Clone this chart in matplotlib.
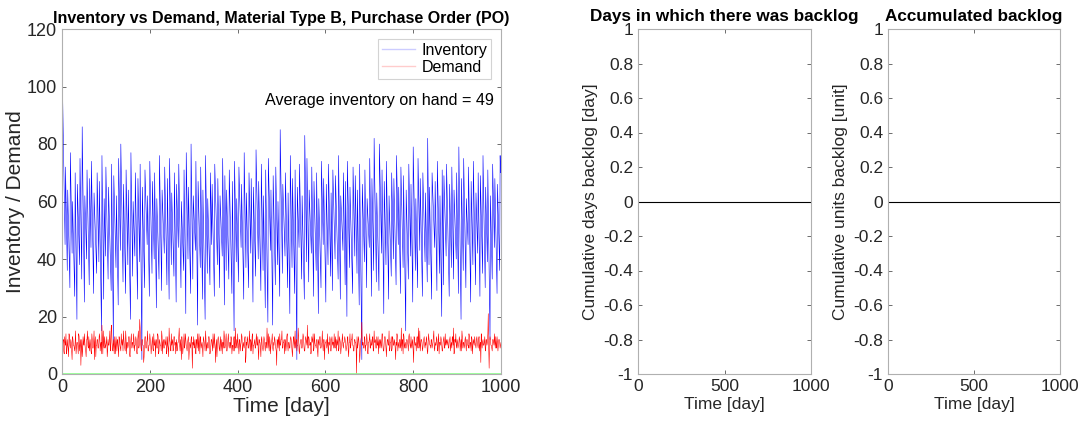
import numpy as np
import matplotlib
matplotlib.use("Agg")
import matplotlib.pyplot as plt
from matplotlib.lines import Line2D

plt.rcParams['font.family'] = ['Liberation Sans', 'DejaVu Sans']

# ---------------- data ----------------
# inventory: replenishment cycles (length in days, level right after order arrival, level before next order)
cycle_len = [8,
    5, 6, 5, 6, 5, 6, 5, 6, 5, 6,
    4, 6, 7, 5, 6, 5, 4, 6, 7, 5,
    6, 5, 5, 6, 6, 5, 6, 5, 5, 6,
    5, 5, 6, 6, 5, 6, 5, 5, 6, 6,
    6, 6, 5, 5, 6, 5, 5, 6, 6, 5,
    5, 6, 5, 6, 5, 6, 5, 6, 5, 6,
    4, 6, 7, 5, 6, 5, 4, 6, 7, 5,
    5, 5, 6, 6, 5, 6, 5, 5, 6, 6,
    6, 5, 5, 6, 6, 5, 6, 5, 5, 6,
    6, 6, 5, 5, 6, 5, 5, 6, 6, 5,
    5, 6, 5, 6, 5, 6, 5, 6, 5, 6,
    4, 6, 7, 5, 6, 5, 4, 6, 7, 5,
    5, 5, 6, 6, 5, 6, 5, 5, 6, 6,
    6, 5, 5, 6, 6, 5, 6, 5, 5, 6,
    6, 6, 5, 5, 6, 5, 5, 6, 6, 5,
    4, 6, 7, 5, 6, 5, 4, 6, 7, 5,
    5, 6, 5, 6, 5, 6, 5, 6, 5, 6,
    5, 5, 6, 6, 5, 6, 5, 5, 6, 6,
    2]
inv_peak = [110,
    72, 64, 77, 60, 70, 66, 75, 86, 62, 71,
    68, 74, 63, 70, 67, 76, 61, 72, 65, 73,
    69, 62, 75, 80, 66, 71, 64, 77, 60, 70,
    68, 73, 65, 71, 62, 74, 67, 70, 61, 76,
    64, 72, 68, 75, 63, 70, 66, 73, 60, 71,
    77, 65, 80, 62, 74, 67, 72, 64, 76, 61,
    70, 66, 73, 68, 62, 75, 69, 64, 71, 67,
    74, 61, 72, 66, 77, 63, 70, 68, 65, 78,
    67, 73, 62, 71, 75, 64, 69, 72, 60, 85,
    66, 70, 63, 76, 68, 71, 65, 73, 62, 83,
    75, 64, 72, 67, 70, 61, 74, 68, 66, 73,
    63, 71, 69, 76, 62, 70, 67, 74, 65, 72,
    69, 64, 73, 66, 71, 61, 75, 68, 82, 63,
    80, 71, 67, 74, 62, 70, 68, 76, 65, 72,
    69, 64, 73, 66, 79, 61, 75, 68, 70, 63,
    82, 65, 70, 67, 74, 62, 71, 69, 73, 66,
    72, 64, 70, 79, 68, 75, 61, 72, 67, 74,
    63, 70, 69, 76, 65, 71, 62, 73, 68, 66,
    76]
inv_trough = [45,
    36, 30, 42, 27, 19, 38, 33, 25, 40, 31,
    44, 28, 35, 39, 15, 26, 41, 33, 29, 11,
    37, 24, 43, 32, 28, 38, 19, 34, 41, 26,
    39, 5, 30, 45, 27, 35, 40, 23, 33, 29,
    42, 31, 26, 38, 34, 25, 44, 30, 36, 21,
    40, 28, 33, 43, 17, 37, 26, 19, 35, 31,
    45, 27, 38, 30, 41, 24, 36, 33, 28, 15,
    39, 32, 44, 26, 37, 30, 42, 25, 34, 40,
    29, 36, 23, 18, 43, 17, 31, 38, 27, 35,
    41, 30, 21, 37, 28, 5, 44, 33, 26, 39,
    32, 42, 27, 36, 21, 30, 45, 25, 38, 34,
    29, 40, 33, 26, 43, 31, 20, 37, 28, 41,
    35, 24, 5, 39, 30, 44, 27, 36, 32, 29,
    42, 21, 38, 26, 34, 40, 31, 45, 28, 37,
    15, 33, 41, 25, 36, 30, 43, 27, 39, 32,
    38, 26, 44, 29, 35, 20, 31, 41, 27, 37,
    33, 40, 28, 19, 36, 30, 45, 25, 38, 31,
    42, 27, 35, 30, 39, 12, 33, 44, 28, 36,
    70]

# demand on odd days (1, 3, 5, ...)
demand_odd = [
    9, 12, 7, 11, 14, 8, 10, 6, 13, 9,
    11, 5, 12, 10, 8, 15, 9, 11, 7, 13,
    10, 3, 12, 8, 11, 14, 9, 6, 12, 10,
    13, 8, 10, 7, 12, 9, 15, 11, 6, 10,
    12, 9, 14, 8, 11, 17, 7, 10, 13, 9,
    11, 6, 12, 10, 15, 8, 17, 9, 12, 7,
    10, 13, 8, 11, 6, 12, 9, 14, 10, 8,
    12, 9, 15, 7, 11, 10, 13, 6, 12, 9,
    11, 14, 8, 10, 12, 7, 13, 9, 19, 11,
    8, 12, 10, 6, 13, 9, 11, 15, 8, 10,
    12, 7, 11, 9, 14, 10, 6, 12, 9, 13,
    8, 11, 10, 15, 7, 12, 9, 11, 13, 8,
    10, 6, 12, 9, 14, 11, 8, 13, 10, 7,
    12, 9, 11, 16, 8, 10, 13, 7, 11, 9,
    14, 10, 8, 12, 5, 11, 9, 13, 2, 10,
    9, 12, 7, 11, 14, 8, 10, 13, 9, 11,
    6, 12, 10, 15, 8, 11, 9, 13, 7, 10,
    12, 8, 11, 14, 9, 10, 6, 12, 11, 8,
    13, 10, 7, 11, 15, 9, 12, 8, 10, 14,
    9, 11, 13, 7, 10, 12, 8, 16, 10, 9,
    11, 7, 12, 10, 14, 8, 11, 9, 13, 6,
    10, 12, 9, 15, 8, 11, 13, 7, 10, 12,
    9, 14, 10, 8, 12, 11, 6, 13, 9, 10,
    12, 8, 11, 16, 9, 10, 13, 7, 11, 14,
    8, 10, 12, 9, 3, 11, 13, 8, 10, 12,
    15, 9, 11, 7, 12, 10, 14, 8, 11, 9,
    13, 10, 6, 12, 9, 15, 11, 8, 10, 13,
    7, 11, 12, 9, 14, 10, 8, 13, 11, 17,
    9, 12, 10, 7, 13, 11, 8, 14, 10, 9,
    12, 6, 11, 13, 9, 10, 15, 8, 12, 10,
    11, 9, 14, 7, 10, 12, 8, 13, 11, 9,
    10, 13, 8, 11, 15, 9, 12, 7, 10, 14,
    9, 11, 12, 8, 10, 13, 6, 11, 9, 12,
    14, 10, 8, 12, 11, 0, 9, 13, 10, 7,
    12, 18, 11, 9, 13, 8, 10, 12, 7, 11,
    14, 9, 10, 12, 8, 15, 11, 9, 13, 10,
    7, 12, 11, 9, 14, 10, 8, 13, 11, 6,
    12, 10, 15, 9, 11, 8, 13, 10, 12, 9,
    11, 14, 8, 10, 12, 9, 16, 11, 7, 13,
    10, 9, 12, 11, 8, 14, 10, 13, 9, 11,
    4, 12, 10, 8, 13, 11, 9, 15, 10, 12,
    8, 11, 13, 9, 10, 12, 7, 14, 11, 10,
    12, 9, 11, 15, 8, 10, 13, 9, 12, 7,
    11, 13, 10, 8, 12, 9, 14, 11, 10, 12,
    9, 12, 8, 11, 13, 10, 7, 12, 14, 9,
    11, 10, 13, 8, 12, 15, 9, 11, 10, 13,
    8, 12, 10, 14, 9, 11, 13, 7, 12, 10,
    11, 9, 13, 10, 12, 8, 11, 14, 9, 12,
    10, 13, 8, 12, 11, 21, 2, 13, 10, 9,
    12, 11, 14, 9, 10, 13, 8, 12, 11, 10]
# demand on even days (2, 4, 6, ...)
demand_even = [
    11, 8, 13, 10, 7, 12, 9, 14, 10, 12,
    8, 13, 10, 9, 12, 7, 11, 10, 14, 8,
    12, 9, 6, 13, 10, 11, 8, 12, 15, 9,
    10, 12, 8, 14, 9, 11, 5, 13, 10, 12,
    9, 11, 13, 10, 7, 12, 15, 9, 11, 10,
    13, 8, 10, 12, 9, 16, 11, 8, 10, 13,
    7, 11, 12, 9, 13, 10, 8, 11, 12, 15,
    10, 8, 12, 11, 9, 13, 7, 10, 14, 11,
    9, 12, 10, 13, 8, 11, 15, 10, 16, 9,
    12, 10, 4, 11, 13, 9, 12, 8, 10, 14,
    11, 9, 13, 8, 10, 12, 11, 9, 14, 7,
    12, 10, 8, 13, 11, 9, 12, 10, 7, 13,
    9, 16, 11, 8, 10, 12, 9, 13, 11, 10,
    8, 11, 13, 10, 12, 5, 11, 9, 14, 10,
    12, 9, 11, 13, 8, 10, 12, 9, 11, 13,
    10, 8, 12, 9, 11, 14, 7, 12, 10, 9,
    13, 11, 8, 12, 10, 9, 13, 11, 8, 12,
    10, 14, 9, 11, 4, 12, 10, 13, 9, 11,
    8, 12, 11, 9, 13, 10, 14, 8, 12, 10,
    11, 9, 12, 10, 8, 13, 11, 9, 12, 14,
    10, 12, 8, 11, 13, 9, 10, 12, 4, 11,
    13, 9, 11, 10, 12, 8, 14, 10, 11, 9,
    12, 10, 13, 5, 11, 9, 12, 10, 8, 13,
    10, 11, 9, 12, 14, 8, 11, 10, 12, 9,
    11, 13, 10, 8, 12, 9, 11, 14, 10, 12,
    9, 11, 12, 10, 8, 13, 10, 11, 9, 12,
    12, 8, 10, 13, 11, 9, 12, 10, 16, 8,
    10, 12, 9, 11, 13, 8, 11, 12, 10, 9,
    13, 10, 11, 8, 12, 14, 9, 11, 10, 12,
    8, 12, 10, 13, 9, 11, 10, 12, 5, 11,
    12, 10, 9, 11, 13, 8, 12, 10, 11, 14,
    9, 11, 12, 10, 8, 13, 11, 9, 12, 10,
    11, 13, 10, 9, 12, 8, 11, 14, 10, 12,
    10, 8, 12, 11, 9, 13, 10, 12, 4, 11,
    13, 10, 11, 9, 12, 10, 14, 8, 11, 12,
    9, 12, 10, 13, 8, 11, 12, 9, 10, 13,
    11, 9, 12, 10, 14, 8, 11, 13, 9, 10,
    12, 10, 8, 11, 13, 9, 12, 10, 11, 5,
    10, 13, 11, 9, 12, 10, 8, 12, 14, 9,
    11, 9, 12, 10, 13, 11, 9, 10, 12, 8,
    13, 10, 11, 12, 9, 16, 10, 8, 12, 11,
    9, 12, 10, 11, 13, 8, 11, 12, 10, 9,
    12, 10, 13, 9, 11, 10, 12, 8, 14, 11,
    10, 12, 8, 11, 13, 9, 10, 12, 11, 9,
    11, 13, 10, 9, 12, 16, 8, 11, 10, 12,
    9, 11, 12, 10, 8, 13, 11, 9, 12, 10,
    12, 10, 9, 13, 11, 8, 12, 10, 11, 13,
    10, 12, 11, 9, 13, 10, 4, 12, 11, 10,
    11, 9, 12, 10, 14, 9, 11, 12, 10, 8,
    12, 10, 11, 13, 9, 11, 10, 12, 9, 11]

backlog_x = [0, 1000]
backlog_days = [0, 0]
backlog_units = [0, 0]
avg_inventory = 49

# ---------------- build series ----------------
starts = np.concatenate([[0], np.cumsum(cycle_len)[:-1]])
inv_x, inv_y = [], []
for s, L, p, t in zip(starts, cycle_len, inv_peak, inv_trough):
    inv_x += [s, s + L - 1]
    inv_y += [p, t]
dem_x = np.arange(1, 2 * len(demand_odd) + 1)
dem_y = np.empty(2 * len(demand_odd))
dem_y[0::2] = demand_odd
dem_y[1::2] = demand_even

# ---------------- figure ----------------
fig = plt.figure(figsize=(10.81, 4.24), dpi=100)
W, H = 1081, 424
def ax_at(x0, x1, y0, y1):
    return fig.add_axes([x0 / W, 1 - y1 / H, (x1 - x0) / W, (y1 - y0) / H])

spine_c = '#b0b0b0'
txt_c = '#262626'

def style(ax, ls):
    for s in ax.spines.values():
        s.set_color(spine_c)
        s.set_linewidth(0.8)
    ax.tick_params(direction='in', length=3, width=0.6, color='#555555',
                   labelcolor=txt_c, labelsize=ls, top=True, right=True)

ax1 = ax_at(62, 501, 29, 374)
ax1.plot(inv_x, inv_y, color=(0.0, 0.0, 1.0), lw=0.4)
ax1.plot(dem_x, dem_y, color=(1.0, 0.0, 0.0), lw=0.4)
ax1.plot(backlog_x, backlog_units, color=(0.55, 1.0, 0.55), lw=1.2)
ax1.set_xlim(0, 1000)
ax1.set_ylim(0, 120)
ax1.set_xticks([0, 200, 400, 600, 800, 1000])
ax1.set_yticks([0, 20, 40, 60, 80, 100, 120])
style(ax1, 13)
ax1.set_xlabel('Time [day]', fontsize=15, color=txt_c, labelpad=1)
ax1.set_ylabel('Inventory / Demand', fontsize=15, color=txt_c, labelpad=1)
ax1.set_title('Inventory vs Demand, Material Type B, Purchase Order (PO)',
              fontsize=11.5, fontweight='bold', pad=4)
handles = [Line2D([], [], color=(0.8, 0.8, 1.0), lw=1),
           Line2D([], [], color=(1.0, 0.8, 0.8), lw=1)]
leg = ax1.legend(handles, ['Inventory', 'Demand'], loc='upper right',
                 fontsize=11.5, frameon=True, fancybox=False,
                 borderaxespad=0.6, handlelength=2.1, handletextpad=0.4,
                 borderpad=0.25, labelspacing=0.15)
leg.get_frame().set_edgecolor('#c8c8c8')
leg.get_frame().set_linewidth(0.8)
ax1.text(984, 95.3, f'Average inventory on hand = {avg_inventory}',
         ha='right', va='center', fontsize=11.6, color='black')

yt = [-1, -0.8, -0.6, -0.4, -0.2, 0, 0.2, 0.4, 0.6, 0.8, 1]
ytl = ['-1', '-0.8', '-0.6', '-0.4', '-0.2', '0', '0.2', '0.4', '0.6', '0.8', '1']

ax2 = ax_at(638, 811, 29, 374)
ax2.plot(backlog_x, backlog_days, color='black', lw=0.8)
ax2.set_xlim(0, 1000)
ax2.set_ylim(-1, 1)
ax2.set_xticks([0, 500, 1000])
ax2.set_yticks(yt)
ax2.set_yticklabels(ytl)
style(ax2, 12.5)
ax2.set_xlabel('Time [day]', fontsize=12.5, color=txt_c, labelpad=2)
ax2.set_ylabel('Cumulative days backlog [day]', fontsize=12.5, color=txt_c, labelpad=4)
ax2.set_title('Days in which there was backlog', fontsize=12.3, fontweight='bold', pad=6)

ax3 = ax_at(888, 1060, 29, 374)
ax3.plot(backlog_x, backlog_units, color='black', lw=0.8)
ax3.set_xlim(0, 1000)
ax3.set_ylim(-1, 1)
ax3.set_xticks([0, 500, 1000])
ax3.set_yticks(yt)
ax3.set_yticklabels(ytl)
style(ax3, 12.5)
ax3.set_xlabel('Time [day]', fontsize=12.5, color=txt_c, labelpad=2)
ax3.set_ylabel('Cumulative units backlog [unit]', fontsize=12.5, color=txt_c, labelpad=4)
ax3.set_title('Accumulated backlog', fontsize=12.3, fontweight='bold', pad=6)

fig.savefig('out.png', dpi=100, facecolor='white')
